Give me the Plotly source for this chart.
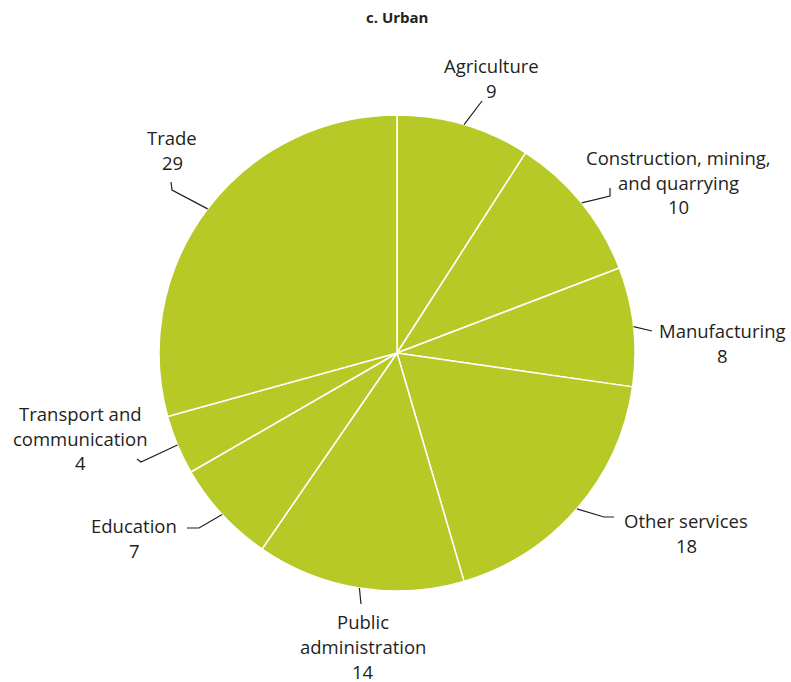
import math
import plotly.graph_objects as go

# Urban employment by sector (percent)
sectors = ["Agriculture", "Construction, mining, and quarrying", "Manufacturing",
           "Other services", "Public administration", "Education",
           "Transport and communication", "Trade"]
shares = [9, 10, 8, 18, 14, 7, 4, 29]
label_lines = [["Agriculture"], ["Construction, mining,", "and quarrying"], ["Manufacturing"],
               ["Other services"], ["Public", "administration"], ["Education"],
               ["Transport and", "communication"], ["Trade"]]

W, H = 791, 682
CX, CY, R = 397, 353, 238
GREEN = "#b7c927"
INK = "#231f20"
FONT = "Open Sans"

# leader-line bends (px) and text anchor (centre x, first line y) per sector
bends = [
    [(482, 101)],
    [(610, 196), (610, 188)],
    [(652, 331)],
    [(604, 517), (614, 517)],
    [(361, 604)],
    [(199, 528), (187, 528)],
    [(141, 462), (137, 459)],
    [(172, 190), (171, 182)],
]
text_pos = [(491, 65), (678, 157), (722, 330), (686, 520), (363, 621),
            (134, 525), (80, 413), (172, 137)]
LINE_GAP = 25


def px(x):
    return x / W


def py(y):
    return 1 - y / H


fig = go.Figure(go.Pie(
    labels=sectors, values=shares, sort=False, direction="clockwise", rotation=0,
    marker=dict(colors=[GREEN] * len(shares), line=dict(color="white", width=1.5)),
    textinfo="none", hoverinfo="label+value", showlegend=False,
    domain=dict(x=[px(CX - R), px(CX + R)], y=[py(CY + R), py(CY - R)]),
))

total = sum(shares)
shapes, annotations = [], []
cum = 0
for i, v in enumerate(shares):
    mid = (cum + v / 2) / total * 2 * math.pi
    cum += v
    sx, sy = CX + R * math.sin(mid), CY - R * math.cos(mid)
    pts = [(sx, sy)] + bends[i]
    path = "M " + " L ".join(f"{px(x)},{py(y)}" for x, y in pts)
    shapes.append(dict(type="path", path=path, xref="paper", yref="paper",
                       line=dict(color=INK, width=1.2)))
    tx, ty = text_pos[i]
    for j, line in enumerate(label_lines[i] + [str(v)]):
        annotations.append(dict(text=line, x=px(tx), y=py(ty + j * LINE_GAP),
                                xref="paper", yref="paper", showarrow=False,
                                xanchor="center", yanchor="middle",
                                font=dict(family=FONT, size=18.5, color=INK)))

annotations.append(dict(text="<b>c. Urban</b>", x=px(397), y=py(17), xref="paper", yref="paper",
                        showarrow=False, xanchor="center", yanchor="middle",
                        font=dict(family=FONT, size=15, color=INK)))

fig.update_layout(width=W, height=H, margin=dict(l=0, r=0, t=0, b=0),
                  paper_bgcolor="white", plot_bgcolor="white",
                  shapes=shapes, annotations=annotations)
fig.write_html("out.html")
